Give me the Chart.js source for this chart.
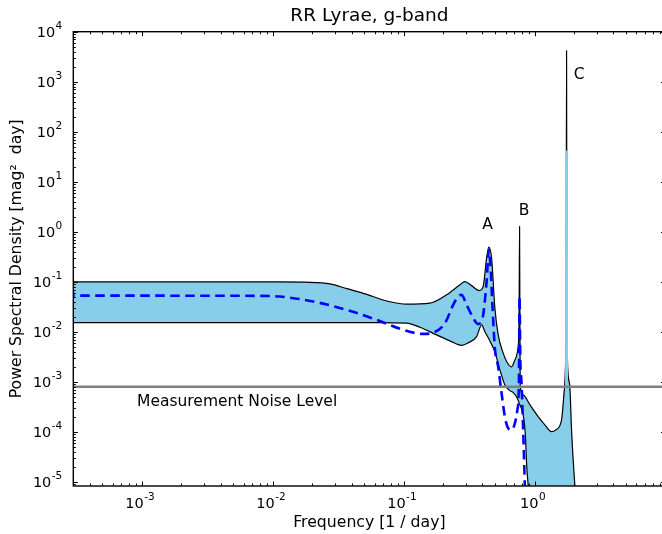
<!DOCTYPE html>
<html>
<head>
<meta charset="utf-8">
<script src="https://cdn.jsdelivr.net/npm/chart.js@4/dist/chart.umd.min.js"></script>
<style>
  html, body { margin: 0; padding: 0; background: #fff; overflow: hidden; }
  #wrap { width: 662px; height: 534px; overflow: hidden; }
  #psd { display: block; }
</style>
</head>
<body>
<div id="wrap"><canvas id="psd" width="666" height="534"></canvas></div>
<script>
// ── Data ─────────────────────────────────────────────────────────────────────
var upperFreq = [2e-4, 0.01136, 0.01765, 0.02738, 0.0369, 0.04915, 0.07859, 0.1054, 0.1588, 0.2130, 0.2690, 0.2937,
                 0.3304, 0.3777, 0.4052, 0.4301, 0.4478, 0.4696, 0.4977, 0.5274, 0.5758, 0.6145,
                 0.6673, 0.7073, 0.7493, 0.7614, 0.7682, 0.7763, 0.8185, 0.9208, 1.0654, 1.1984,
                 1.3485, 1.4544, 1.6075, 1.6740, 1.7185, 1.7428, 1.7553, 1.7675, 1.7957, 1.8600,
                 1.9162, 2.0302, 2.1408, 12];
var upperPsd  = [0.1, 0.1, 0.0985, 0.091, 0.073, 0.059, 0.040, 0.0358, 0.0375, 0.055, 0.087, 0.101,
                 0.084, 0.067, 0.081, 0.298, 0.494, 0.298, 0.0298, 0.0087, 0.00375, 0.0025,
                 0.0020, 0.00275, 0.0051, 0.0174, 1.28, 0.00087, 0.00055, 0.00035, 0.000202, 0.000138,
                 0.000101, 0.00011, 0.000174, 0.00055, 0.00174, 0.0437, 4170, 0.0437, 0.00174, 0.00079,
                 0.00011, 8.7e-6, 1.7e-6, 1e-12];

var lowerFreq = [2e-4, 0.06593, 0.1054, 0.1331, 0.1786, 0.2256, 0.2771, 0.3112, 0.3608, 0.3939,
                 0.4175, 0.4558, 0.4977, 0.5434, 0.5933, 0.6477, 0.6866, 0.7288, 0.7722, 0.8185,
                 0.8507, 0.8688, 0.8935, 0.9371, 1.1984, 1.7428, 1.7553, 1.7675, 2.5, 12];
var lowerPsd  = [0.01535, 0.01535, 0.0149, 0.0124, 0.0087, 0.0066, 0.00537, 0.00603, 0.00805, 0.0138,
                 0.0101, 0.0066, 0.00398, 0.00174, 0.00087, 0.00067, 0.00061, 0.0005, 0.00035, 0.000219,
                 8.7e-5, 2.37e-5, 8.7e-6, 2.75e-6, 1e-8, 1e-8, 40, 1e-8, 1e-8, 1e-12];

var dashFreq  = [2e-4, 0.0075, 0.01136, 0.02041, 0.03671, 0.06221, 0.09929, 0.1411, 0.1683, 0.2067, 0.2390,
                 0.2598, 0.2771, 0.3026, 0.3304, 0.3710, 0.3891, 0.4052, 0.4301, 0.4478, 0.4614,
                 0.4779, 0.4977, 0.5274, 0.5600, 0.5933, 0.6289, 0.6711, 0.7073, 0.7390, 0.7589,
                 0.7682, 0.7790, 0.7929, 0.8185, 0.8432, 0.8735, 0.95];
var dashPsd   = [0.053, 0.0525, 0.0508, 0.0404, 0.0275, 0.0174, 0.011, 0.0091, 0.0097, 0.0149, 0.0347,
                 0.050, 0.055, 0.0347, 0.0219, 0.0143, 0.0158, 0.0219, 0.1, 0.437, 0.19,
                 0.0298, 0.0047, 0.0020, 0.00059, 0.000202, 0.000119, 0.00011, 0.000149, 0.000275, 0.00087,
                 0.0508, 0.0024, 0.0011, 0.00011, 8.7e-6, 1e-6, 1e-9];

var noiseFreq = [2e-4, 12];
var noisePsd  = [8e-4, 8e-4];

var peakNames    = ['A', 'B', 'C'];
var peakFreq     = [0.4377, 0.8329, 2.19];
var peakLabelPsd = [1.36, 2.63, 1361];
var noiseLabel   = 'Measurement Noise Level';
var noiseLabelAt = [9.2e-4, 3.98e-4];

var xMin = 3.0e-4, xMax = 10;
var yMin = 8.3e-6, yMax = 1e4;
var xMajor = [1e-3, 1e-2, 1e-1, 1e0];
var yMajor = [1e-5, 1e-4, 1e-3, 1e-2, 1e-1, 1e0, 1e1, 1e2, 1e3, 1e4];

var fillColor = '#87ceeb';
var FONT = '"DejaVu Sans", sans-serif';

function pts(xs, ys) {
  var out = [];
  for (var i = 0; i < xs.length; i++) out.push({ x: xs[i], y: ys[i] });
  return out;
}
function isSpikeC(c) {
  return c.p0.parsed.x > 1.7 && c.p1.parsed.x < 1.8;
}

// ── Frame, inward ticks, tick labels (10 with raised exponent), annotations ──
function logTicks(min, max) {
  var out = [];
  for (var e = Math.floor(Math.log10(min)); e <= Math.ceil(Math.log10(max)); e++) {
    for (var k = 1; k <= 9; k++) {
      var v = k * Math.pow(10, e);
      if (v >= min * 0.9999 && v <= max * 1.0001) out.push({ v: v, major: k === 1 });
    }
  }
  return out;
}

function drawPow(ctx, v, x, baseY, align) {
  var e = String(Math.round(Math.log10(v)));
  ctx.font = '14.5px ' + FONT;
  var w1 = ctx.measureText('10').width;
  ctx.font = '10.5px ' + FONT;
  var w2 = ctx.measureText(e).width;
  var x0 = align === 'right' ? x - w1 - w2 : x - (w1 + w2) / 2;
  ctx.font = '14.5px ' + FONT;
  ctx.fillText('10', x0, baseY);
  ctx.font = '10.5px ' + FONT;
  ctx.fillText(e, x0 + w1 + 0.5, baseY - 7.5);
}

var framePlugin = {
  id: 'framePlugin',
  afterDatasetsDraw: function (chart) {
    var ctx = chart.ctx, a = chart.chartArea;
    var xs = chart.scales.x, ys = chart.scales.y;
    ctx.save();
    ctx.strokeStyle = '#000';
    ctx.lineWidth = 1;
    ctx.beginPath();
    logTicks(xMin, xMax).forEach(function (t) {
      var px = Math.round(xs.getPixelForValue(t.v)) + 0.5, len = t.major ? 4.5 : 2.5;
      ctx.moveTo(px, a.bottom); ctx.lineTo(px, a.bottom - len);
      ctx.moveTo(px, a.top);    ctx.lineTo(px, a.top + len);
    });
    logTicks(yMin, yMax).forEach(function (t) {
      var py = Math.round(ys.getPixelForValue(t.v)) + 0.5, len = t.major ? 4.5 : 2.5;
      ctx.moveTo(a.left, py);  ctx.lineTo(a.left + len, py);
      ctx.moveTo(a.right, py); ctx.lineTo(a.right - len, py);
    });
    ctx.stroke();
    ctx.lineWidth = 1.4;
    ctx.strokeRect(a.left, a.top, a.right - a.left, a.bottom - a.top);

    ctx.fillStyle = '#000';
    ctx.textAlign = 'left';
    ctx.textBaseline = 'alphabetic';
    xMajor.forEach(function (v) {
      drawPow(ctx, v, xs.getPixelForValue(v) - 2, a.bottom + 21.5, 'center');
    });
    yMajor.forEach(function (v) {
      drawPow(ctx, v, a.left - 11.5, ys.getPixelForValue(v) + 5, 'right');
    });

    ctx.font = '15.5px ' + FONT;
    ctx.textBaseline = 'middle';
    ctx.textAlign = 'center';
    for (var i = 0; i < peakNames.length; i++) {
      ctx.fillText(peakNames[i], xs.getPixelForValue(peakFreq[i]), ys.getPixelForValue(peakLabelPsd[i]));
    }
    ctx.textAlign = 'left';
    ctx.fillText(noiseLabel, xs.getPixelForValue(noiseLabelAt[0]), ys.getPixelForValue(noiseLabelAt[1]));
    ctx.restore();
  }
};

Chart.defaults.font.family = FONT;
Chart.defaults.color = '#000';

new Chart(document.getElementById('psd'), {
  type: 'line',
  data: {
    datasets: [
      {
        label: 'model PSD',
        data: pts(dashFreq, dashPsd),
        borderColor: '#0000ff',
        borderWidth: 2.6,
        borderDash: [9.5, 5.5],
        pointRadius: 0,
        fill: false,
        cubicInterpolationMode: 'monotone'
      },
      {
        label: 'noise level',
        data: pts(noiseFreq, noisePsd),
        borderColor: '#808080',
        borderWidth: 2.4,
        pointRadius: 0,
        fill: false
      },
      {
        label: 'lower',
        data: pts(lowerFreq, lowerPsd),
        borderColor: '#000',
        borderWidth: 1.2,
        borderJoinStyle: 'round',
        pointRadius: 0,
        fill: false,
        cubicInterpolationMode: 'monotone',
        segment: {
          borderColor: function (c) { return isSpikeC(c) ? fillColor : undefined; },
          borderWidth: function (c) { return isSpikeC(c) ? 2.6 : undefined; }
        }
      },
      {
        label: 'upper',
        data: pts(upperFreq, upperPsd),
        borderColor: '#000',
        borderWidth: 1.2,
        borderJoinStyle: 'round',
        backgroundColor: fillColor,
        pointRadius: 0,
        fill: '-1',
        cubicInterpolationMode: 'monotone'
      }
    ]
  },
  options: {
    responsive: false,
    animation: false,
    events: [],
    layout: { padding: { left: 0, right: 0.5, top: 0, bottom: 0 } },
    plugins: {
      legend: { display: false },
      tooltip: { enabled: false },
      title: {
        display: true,
        text: 'RR Lyrae, g-band',
        fullSize: false,
        font: { size: 18.5, weight: 'normal' },
        color: '#000',
        padding: { top: 5, bottom: 4.5 }
      }
    },
    scales: {
      x: {
        type: 'logarithmic',
        min: xMin,
        max: xMax,
        grid: { display: false, drawTicks: false },
        border: { display: false },
        ticks: { display: false },
        title: { display: true, text: 'Frequency [1 / day]', font: { size: 15.7 }, padding: { top: 0, bottom: 2 } },
        afterBuildTicks: function (s) { s.ticks = xMajor.map(function (v) { return { value: v }; }); },
        afterFit: function (s) { s.height = 48; }
      },
      y: {
        type: 'logarithmic',
        min: yMin,
        max: yMax,
        grid: { display: false, drawTicks: false },
        border: { display: false },
        ticks: { display: false },
        title: { display: true, text: 'Power Spectral Density [mag²  day]', font: { size: 15.7 }, padding: { top: 8, bottom: 0 } },
        afterBuildTicks: function (s) { s.ticks = yMajor.map(function (v) { return { value: v }; }); },
        afterFit: function (s) { s.width = 73.3; }
      }
    }
  },
  plugins: [framePlugin]
});
</script>
</body>
</html>
